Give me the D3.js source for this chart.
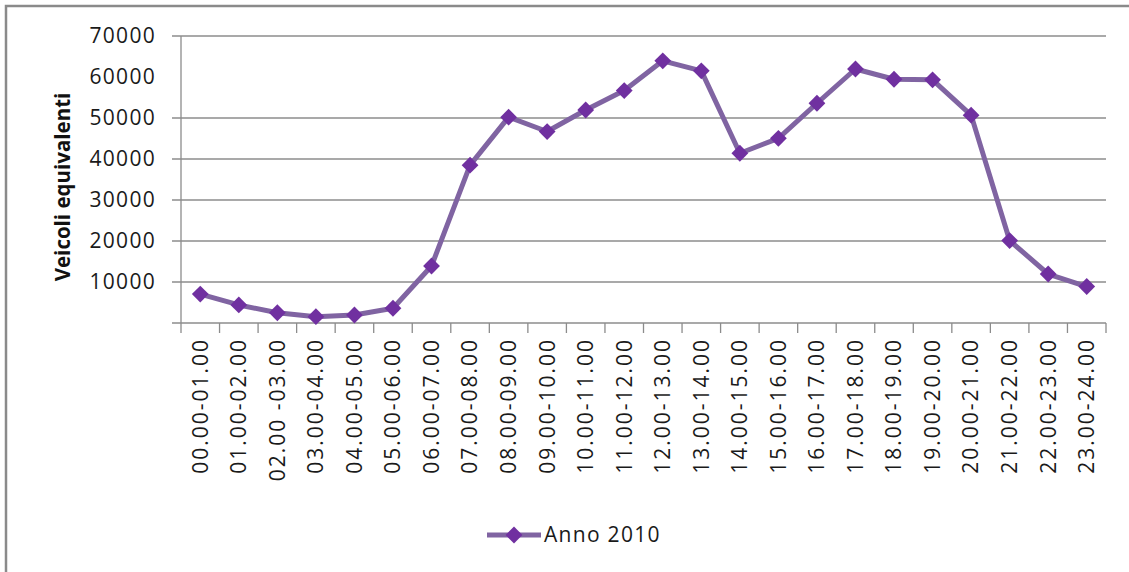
<!DOCTYPE html>
<html>
<head>
<meta charset="utf-8">
<script src="https://cdnjs.cloudflare.com/ajax/libs/d3/7.8.5/d3.min.js"></script>
<style>
  body { margin: 0; background: #fff; }
  svg { display: block; font-family: 'Open Sans', 'Liberation Sans', sans-serif; }
</style>
</head>
<body>
<script>
var categories = ['00.00-01.00', '01.00-02.00', '02.00 -03.00', '03.00-04.00', '04.00-05.00', '05.00-06.00',
  '06.00-07.00', '07.00-08.00', '08.00-09.00', '09.00-10.00', '10.00-11.00', '11.00-12.00',
  '12.00-13.00', '13.00-14.00', '14.00-15.00', '15.00-16.00', '16.00-17.00', '17.00-18.00',
  '18.00-19.00', '19.00-20.00', '20.00-21.00', '21.00-22.00', '22.00-23.00', '23.00-24.00']
var values = [7050, 4400, 2500, 1550, 1950, 3600, 13900, 38500, 50200, 46700, 51950, 56700,
  63950, 61500, 41400, 45050, 53600, 61950, 59450, 59300, 50700, 20100, 11950, 8900]
var yTicks = [10000, 20000, 30000, 40000, 50000, 60000, 70000]
var gridValues = [0, 10000, 20000, 30000, 40000, 50000, 70000]
var seriesName = 'Anno 2010'
var yTitle = 'Veicoli equivalenti'

var W = 1129, H = 572
var margin = {top: 36, right: 23, bottom: 249, left: 181}
var width = W - margin.left - margin.right
var height = H - margin.top - margin.bottom

var lineColor = '#8064a2'
var markColor = '#7030a0'
var axisColor = '#8c8c8c'

var svg = d3.select('body').append('svg')
  .attr('width', W)
  .attr('height', H)

// chart frame (only top and left edges are visible in the picture)
svg.append('path')
  .attr('d', 'M6,572 V6 H1129')
  .attr('fill', 'none')
  .attr('stroke', '#8a8a8a')
  .attr('stroke-width', 2.5)

var g = svg.append('g')
  .attr('transform', `translate(${margin.left}, ${margin.top})`)

var x = d3.scaleBand().domain(categories).range([0, width])
var y = d3.scaleLinear().domain([0, 70000]).range([height, 0])

// gridlines and y ticks
g.selectAll('.grid')
  .data(gridValues)
  .enter().append('line')
  .attr('class', 'grid')
  .attr('x1', -9)
  .attr('x2', width)
  .attr('y1', d => y(d))
  .attr('y2', d => y(d))
  .attr('stroke', axisColor)
  .attr('stroke-width', 1.3)

// y axis line
g.append('line')
  .attr('x1', 0).attr('x2', 0)
  .attr('y1', 0).attr('y2', height + 10)
  .attr('stroke', axisColor)
  .attr('stroke-width', 1.3)

// x ticks at category boundaries
var bounds = categories.map(c => x(c) + x.bandwidth())
g.selectAll('.xtick')
  .data(bounds)
  .enter().append('line')
  .attr('class', 'xtick')
  .attr('x1', d => d).attr('x2', d => d)
  .attr('y1', height).attr('y2', height + 10)
  .attr('stroke', axisColor)
  .attr('stroke-width', 1.3)

// y tick labels
g.selectAll('.ylab')
  .data(yTicks)
  .enter().append('text')
  .attr('class', 'ylab')
  .attr('x', -25)
  .attr('y', d => y(d))
  .attr('dy', '0.35em')
  .attr('text-anchor', 'end')
  .attr('font-size', 21)
  .attr('letter-spacing', 1.3)
  .attr('fill', '#1a1a1a')
  .text(d => d)

// x labels, rotated
g.selectAll('.xlab')
  .data(categories)
  .enter().append('text')
  .attr('class', 'xlab')
  .attr('transform', d => `translate(${x(d) + x.bandwidth() / 2}, ${height + 15}) rotate(-90)`)
  .attr('dy', '0.35em')
  .attr('text-anchor', 'end')
  .attr('font-size', 21)
  .attr('letter-spacing', 2)
  .attr('fill', '#1a1a1a')
  .text(d => d)

// y title
svg.append('text')
  .attr('transform', 'translate(63, 187) rotate(-90)')
  .attr('dy', '0.35em')
  .attr('text-anchor', 'middle')
  .attr('font-size', 20.5)
  .attr('font-weight', 'bold')
  .attr('fill', '#111')
  .text(yTitle)

// series line
var line = d3.line()
  .x((d, i) => x(categories[i]) + x.bandwidth() / 2)
  .y(d => y(d))

g.append('path')
  .datum(values)
  .attr('d', line)
  .attr('fill', 'none')
  .attr('stroke', lineColor)
  .attr('stroke-width', 5)
  .attr('stroke-linejoin', 'round')

var diamond = d3.symbol().type(d3.symbolDiamond2).size(180)
g.selectAll('.mark')
  .data(values)
  .enter().append('path')
  .attr('class', 'mark')
  .attr('d', diamond)
  .attr('transform', (d, i) => `translate(${x(categories[i]) + x.bandwidth() / 2}, ${y(d)})`)
  .attr('fill', markColor)

// legend
var leg = svg.append('g').attr('transform', 'translate(487, 535)')
leg.append('line')
  .attr('x1', 0).attr('x2', 54)
  .attr('stroke', lineColor)
  .attr('stroke-width', 5)
leg.append('path')
  .attr('d', diamond)
  .attr('transform', 'translate(27, 0)')
  .attr('fill', markColor)
leg.append('text')
  .attr('x', 57)
  .attr('dy', '0.35em')
  .attr('font-size', 21)
  .attr('letter-spacing', 1.3)
  .attr('fill', '#1a1a1a')
  .text(seriesName)
</script>
</body>
</html>
